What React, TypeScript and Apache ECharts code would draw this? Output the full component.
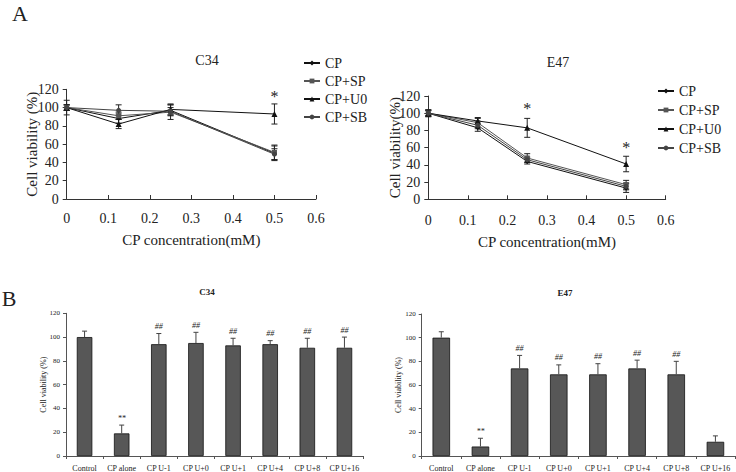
import React, { useEffect, useRef } from "react";
import * as echarts from "echarts";

// ---------- Data ----------
const concentrations = [0, 0.125, 0.25, 0.5];
const lineNames = ["CP", "CP+SP", "CP+U0", "CP+SB"];

// Panel A, C34
const c34CP = [100, 88, 97, 50];
const c34SP = [100, 91, 95, 51];
const c34U0 = [100, 82, 98, 93];
const c34SB = [100, 97, 96, 49];
const c34CPErr = [3, 5, 6, 8];
const c34SPErr = [3, 4, 8, 8];
const c34U0Err = [8, 5, 6, 11];
const c34SBErr = [3, 6, 4, 6];
const c34Stars = [[0.5, 114]];

// Panel A, E47
const e47CP = [100, 83, 44, 13];
const e47SP = [100, 89, 48, 17];
const e47U0 = [100, 91, 83, 41];
const e47SB = [100, 86, 46, 15];
const e47CPErr = [4, 4, 3, 5];
const e47SPErr = [4, 5, 5, 5];
const e47U0Err = [3, 4, 11, 9];
const e47SBErr = [3, 4, 3, 4];
const e47Stars = [[0.25, 108], [0.5, 63]];

// Panel B
const barCategories = ["Control", "CP alone", "CP U-1", "CP U+0", "CP U+1", "CP U+4", "CP U+8", "CP U+16"];
const c34Bars = [100, 19, 94, 95, 93, 94, 91, 91];
const c34BarErr = [5, 7, 9, 9, 6, 3, 8, 9];
const c34BarSig = ["", "**", "##", "##", "##", "##", "##", "##"];
const e47Bars = [100, 8, 74, 69, 69, 74, 69, 12];
const e47BarErr = [5, 7, 11, 8, 9, 7, 11, 5];
const e47BarSig = ["", "**", "##", "##", "##", "##", "##", ""];

const yTicks = { min: 0, max: 120, interval: 20 };
const xTicks = { min: 0, max: 0.6, interval: 0.1 };

// ---------- Styles ----------
const SERIF = "Liberation Serif, Times New Roman, serif";
const TXT = "#222";
const lineColors = ["#111", "#555", "#111", "#444"];
const lineSymbols = ["diamond", "rect", "triangle", "circle"];

function pairs(xs: number[], ys: number[]) {
  return xs.map((x, i) => [x, ys[i]]);
}
function triples(xs: number[], ys: number[], es: number[]) {
  return xs.map((x, i) => [x, ys[i], es[i]]);
}

const lineErrRender = (params: any, api: any) => {
  const x = api.value(0);
  const y = api.value(1);
  const e = api.value(2);
  const t = api.coord([x, y + e]);
  const b = api.coord([x, y - e]);
  const cap = 3;
  const st = { stroke: "#222", lineWidth: 1 };
  return {
    type: "group",
    children: [
      { type: "line", shape: { x1: t[0], y1: t[1], x2: b[0], y2: b[1] }, style: st },
      { type: "line", shape: { x1: t[0] - cap, y1: t[1], x2: t[0] + cap, y2: t[1] }, style: st },
      { type: "line", shape: { x1: b[0] - cap, y1: b[1], x2: b[0] + cap, y2: b[1] }, style: st },
    ],
  };
};

const barErrRender = (params: any, api: any) => {
  const i = api.value(0);
  const y = api.value(1);
  const e = api.value(2);
  const t = api.coord([i, y + e]);
  const b = api.coord([i, y]);
  const cap = 2.5;
  const st = { stroke: "#444", lineWidth: 1 };
  return {
    type: "group",
    children: [
      { type: "line", shape: { x1: t[0], y1: t[1], x2: b[0], y2: b[1] }, style: st },
      { type: "line", shape: { x1: t[0] - cap, y1: t[1], x2: t[0] + cap, y2: t[1] }, style: st },
    ],
  };
};

const textMarkRender =
  (texts: (i: number) => string, size: number, dy: number, italic: boolean) => (params: any, api: any) => {
    const p = api.coord([api.value(0), api.value(1)]);
    return {
      type: "text",
      x: p[0],
      y: p[1] + dy,
      style: {
        text: texts(params.dataIndex),
        fontFamily: SERIF,
        fontSize: size,
        fontStyle: italic ? "italic" : "normal",
        fill: TXT,
        align: "center",
        verticalAlign: "middle",
      },
    };
  };

function lineAxes(idx: number, yName: string, xLabelMargin: number, yNameGap: number, xNameGap: number) {
  const axisLine = { show: true, lineStyle: { color: "#333", width: 1 } };
  return {
    x: {
      type: "value",
      gridIndex: idx,
      ...xTicks,
      axisLine,
      axisTick: { show: true, inside: true, length: 4, lineStyle: { color: "#333" } },
      splitLine: { show: false },
      axisLabel: {
        fontFamily: SERIF,
        fontSize: 14,
        color: TXT,
        margin: xLabelMargin,
        formatter: (v: number) => (v === 0 ? "0" : v.toFixed(1)),
      },
      name: "CP concentration(mM)",
      nameLocation: "middle",
      nameGap: xNameGap,
      nameMoveOverlap: false,
      nameTextStyle: { fontFamily: SERIF, fontSize: 15, color: TXT },
    },
    y: {
      type: "value",
      gridIndex: idx,
      ...yTicks,
      axisLine,
      axisTick: { show: true, inside: false, length: 4, lineStyle: { color: "#333" } },
      splitLine: { show: false },
      axisLabel: { fontFamily: SERIF, fontSize: 14, color: TXT, margin: 8 },
      name: yName,
      nameLocation: "middle",
      nameGap: yNameGap,
      nameMoveOverlap: false,
      nameTextStyle: { fontFamily: SERIF, fontSize: 15, color: TXT },
    },
  };
}

function barAxes(idx: number, yNameGap: number) {
  const axisLine = { show: true, lineStyle: { color: "#555", width: 1 } };
  return {
    x: {
      type: "category",
      gridIndex: idx,
      data: barCategories,
      axisLine,
      axisTick: { show: true, length: 3, lineStyle: { color: "#555" } },
      axisLabel: { fontFamily: SERIF, fontSize: 8, color: TXT, margin: 8, interval: 0 },
    },
    y: {
      type: "value",
      gridIndex: idx,
      ...yTicks,
      axisLine,
      axisTick: { show: true, length: 3, lineStyle: { color: "#555" } },
      splitLine: { show: false },
      axisLabel: { fontFamily: SERIF, fontSize: 7, color: TXT, margin: 6 },
      name: "Cell viability (%)",
      nameLocation: "middle",
      nameGap: yNameGap,
      nameMoveOverlap: false,
      nameTextStyle: { fontFamily: SERIF, fontSize: 8, color: TXT },
    },
  };
}

function lineSeries(idx: number, values: number[][], errs: number[][], stars: number[][]) {
  const out: any[] = values.map((vals, k) => ({
    type: "line",
    name: lineNames[k],
    xAxisIndex: idx,
    yAxisIndex: idx,
    data: pairs(concentrations, vals),
    symbol: lineSymbols[k],
    symbolSize: k === 2 ? 6 : 5,
    itemStyle: { color: lineColors[k] },
    lineStyle: { color: lineColors[k], width: 1 },
    z: 3,
  }));
  values.forEach((vals, k) => {
    out.push({
      type: "custom",
      name: "err" + idx + "-" + k,
      xAxisIndex: idx,
      yAxisIndex: idx,
      renderItem: lineErrRender,
      data: triples(concentrations, vals, errs[k]),
      z: 2,
    });
  });
  out.push({
    type: "custom",
    name: "stars" + idx,
    xAxisIndex: idx,
    yAxisIndex: idx,
    data: stars,
    renderItem: textMarkRender(() => "*", 16, 2, false),
    z: 4,
  });
  return out;
}

function barSeries(idx: number, vals: number[], errs: number[], sig: string[], barWidth: number) {
  return [
    {
      type: "bar",
      name: "bars" + idx,
      xAxisIndex: idx,
      yAxisIndex: idx,
      data: vals,
      barWidth,
      itemStyle: { color: "#575757", borderColor: "#111", borderWidth: 0.8 },
      z: 2,
    },
    {
      type: "custom",
      name: "barerr" + idx,
      xAxisIndex: idx,
      yAxisIndex: idx,
      renderItem: barErrRender,
      data: vals.map((v, i) => [i, v, errs[i]]),
      z: 3,
    },
    {
      type: "custom",
      name: "sig" + idx,
      xAxisIndex: idx,
      yAxisIndex: idx,
      data: vals.map((v, i) => [i, v + errs[i]]),
      renderItem: textMarkRender((i) => sig[i], 8, -7, true),
      z: 4,
    },
  ];
}

export default function App() {
  const ref = useRef<HTMLDivElement>(null);
  useEffect(() => {
    if (!ref.current) return;
    const chart = echarts.init(ref.current, undefined, { renderer: "svg" });
    const a0 = lineAxes(0, "Cell viability (%)", 12, 27, 33);
    const a1 = lineAxes(1, "Cell viability(%)", 14, 26, 35);
    const b0 = barAxes(2, 19);
    const b1 = barAxes(3, 19);
    const legendBase = {
      orient: "vertical",
      data: lineNames,
      itemWidth: 16,
      itemHeight: 6,
      textStyle: { fontFamily: SERIF, fontSize: 14, color: TXT },
      selectedMode: false,
    };
    const textEl = (x: number, y: number, text: string, size: number, weight = "normal") => ({
      type: "text",
      x,
      y,
      style: {
        text,
        fontFamily: SERIF,
        fontSize: size,
        fontWeight: weight,
        fill: TXT,
        align: "center",
        verticalAlign: "middle",
      },
    });
    chart.setOption({
      animation: false,
      backgroundColor: "#fff",
      grid: [
        { left: 66.7, top: 89.3, width: 249.3, height: 109.7 },
        { left: 428.3, top: 96, width: 237.4, height: 103.3 },
        { left: 66, top: 313.3, width: 297, height: 143.4 },
        { left: 421.7, top: 314, width: 313.3, height: 142 },
      ],
      xAxis: [a0.x, a1.x, b0.x, b1.x],
      yAxis: [a0.y, a1.y, b0.y, b1.y],
      legend: [
        { ...legendBase, left: 298, top: 51, itemGap: 4 },
        { ...legendBase, left: 652, top: 79, itemGap: 5 },
      ],
      graphic: [
        textEl(20, 13, "A", 22),
        textEl(9, 298, "B", 22),
        textEl(207, 60, "C34", 14),
        textEl(558, 62, "E47", 14),
        textEl(207, 292, "C34", 9, "bold"),
        textEl(565, 293, "E47", 9, "bold"),
      ],
      series: [
        ...lineSeries(
          0,
          [c34CP, c34SP, c34U0, c34SB],
          [c34CPErr, c34SPErr, c34U0Err, c34SBErr],
          c34Stars
        ),
        ...lineSeries(
          1,
          [e47CP, e47SP, e47U0, e47SB],
          [e47CPErr, e47SPErr, e47U0Err, e47SBErr],
          e47Stars
        ),
        ...barSeries(2, c34Bars, c34BarErr, c34BarSig, 15.5),
        ...barSeries(3, e47Bars, e47BarErr, e47BarSig, 17.5),
      ],
    });
    return () => chart.dispose();
  }, []);
  return (
    <div
      ref={ref}
      style={{ position: "fixed", left: 0, top: 0, width: 736, height: 472, background: "#fff" }}
    />
  );
}
